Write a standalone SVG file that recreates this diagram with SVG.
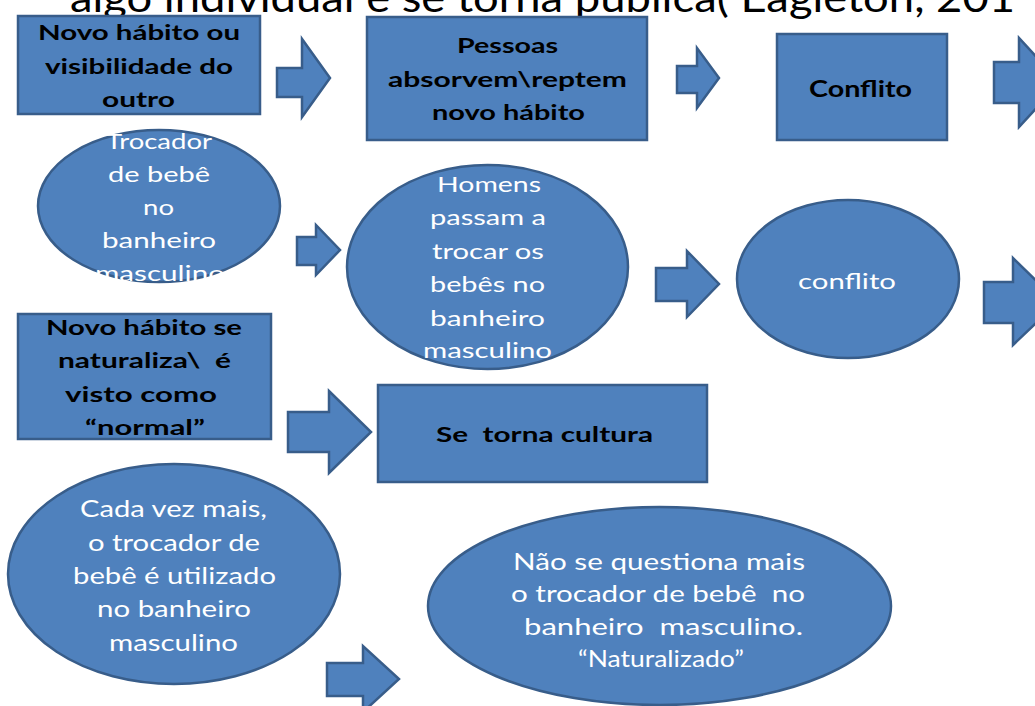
<svg xmlns="http://www.w3.org/2000/svg" width="1035" height="706" viewBox="0 0 1035 706">
<style>
.shape{fill:#4F81BD;stroke:#385D8A;stroke-width:2.5}
.arrow{fill:#4F81BD;stroke:#385D8A;stroke-width:2.5;stroke-linejoin:miter}
.bt{font-family:Lato,'Liberation Sans',sans-serif;font-weight:bold;font-size:21px;fill:#000}
.wt{font-family:Lato,'Liberation Sans',sans-serif;font-size:22px;fill:#fff}
.wt2{font-family:Lato,'Liberation Sans',sans-serif;font-size:24px;fill:#fff}
.title{font-family:Lato,'Liberation Sans',sans-serif;font-size:40px;fill:#000}
</style>
<rect width="1035" height="706" fill="#fff"/>
<text class="title" x="70" y="12" textLength="945" lengthAdjust="spacingAndGlyphs">algo individual e se torna pública( Eagleton, 201</text>

<g id="connectors">
<polygon class="arrow" points="277,68 302,68 302,39 330,78 302,117 302,97 277,97"/>
<polygon class="arrow" points="677,66 697,66 697,48 719,78 697,108 697,93 677,93"/>
<polygon class="arrow" points="994,62 1019,62 1019,38 1060,82.5 1019,127 1019,103 994,103"/>
<polygon class="arrow" points="297,237 316,237 316,225 340,250 316,275 316,265 297,265"/>
<polygon class="arrow" points="656,268 687,268 687,251 719,284 687,317 687,301 656,301"/>
<polygon class="arrow" points="984,282 1013,282 1013,258 1058,302 1013,345 1013,323 984,323"/>
<polygon class="arrow" points="288,412 329,412 329,391 371,432 329,473 329,452 288,452"/>
<polygon class="arrow" points="327,663 363,663 363,646 399,679 363,712 363,696 327,696"/>
</g>

<g id="box1">
<rect class="shape" x="18" y="16" width="242" height="98"/>
<text class="bt" x="38" y="40" textLength="202" lengthAdjust="spacingAndGlyphs">Novo hábito ou</text>
<text class="bt" x="45" y="74" textLength="188" lengthAdjust="spacingAndGlyphs">visibilidade do</text>
<text class="bt" x="102" y="107" textLength="73" lengthAdjust="spacingAndGlyphs">outro</text>
</g>

<g id="box2">
<rect class="shape" x="367" y="17" width="280" height="123"/>
<text class="bt" x="457" y="53" textLength="101" lengthAdjust="spacingAndGlyphs">Pessoas</text>
<text class="bt" x="388" y="87" textLength="239" lengthAdjust="spacingAndGlyphs">absorvem\reptem</text>
<text class="bt" x="432" y="120" textLength="153" lengthAdjust="spacingAndGlyphs">novo hábito</text>
</g>

<g id="box3">
<rect class="shape" x="777" y="34" width="170" height="106"/>
<text class="bt" x="809" y="97" textLength="103" lengthAdjust="spacingAndGlyphs" style="font-size:23px">Conflito</text>
</g>

<g id="ellipse1">
<ellipse class="shape" cx="159" cy="206" rx="121" ry="76"/>
<text class="wt" x="106" y="149" textLength="106" lengthAdjust="spacingAndGlyphs">Trocador</text>
<text class="wt" x="108" y="182" textLength="102" lengthAdjust="spacingAndGlyphs">de bebê</text>
<text class="wt" x="143" y="215" textLength="31" lengthAdjust="spacingAndGlyphs">no</text>
<text class="wt" x="102" y="248" textLength="114" lengthAdjust="spacingAndGlyphs">banheiro</text>
<text class="wt" x="95" y="281" textLength="130" lengthAdjust="spacingAndGlyphs">masculino</text>
</g>

<g id="ellipse2">
<ellipse class="shape" cx="487.5" cy="267" rx="140.5" ry="102"/>
<text class="wt" x="437" y="192" textLength="104" lengthAdjust="spacingAndGlyphs">Homens</text>
<text class="wt" x="430" y="225" textLength="116" lengthAdjust="spacingAndGlyphs">passam a</text>
<text class="wt" x="432" y="259" textLength="112" lengthAdjust="spacingAndGlyphs">trocar os</text>
<text class="wt" x="430" y="292" textLength="115" lengthAdjust="spacingAndGlyphs">bebês no</text>
<text class="wt" x="430" y="326" textLength="115" lengthAdjust="spacingAndGlyphs">banheiro</text>
<text class="wt" x="423" y="358" textLength="129" lengthAdjust="spacingAndGlyphs">masculino</text>
</g>

<g id="ellipse3">
<ellipse class="shape" cx="848" cy="279" rx="111" ry="79"/>
<text class="wt" x="798" y="289" textLength="98" lengthAdjust="spacingAndGlyphs">conflito</text>
</g>

<g id="box4">
<rect class="shape" x="18" y="314" width="253" height="125"/>
<text class="bt" x="46" y="335" textLength="196" lengthAdjust="spacingAndGlyphs">Novo hábito se</text>
<text class="bt" x="58" y="368" textLength="173" lengthAdjust="spacingAndGlyphs" xml:space="preserve">naturaliza\  é</text>
<text class="bt" x="65" y="402" textLength="152" lengthAdjust="spacingAndGlyphs">visto como</text>
<text class="bt" x="85" y="435" textLength="120" lengthAdjust="spacingAndGlyphs">“normal”</text>
</g>

<g id="box5">
<rect class="shape" x="378" y="385" width="329" height="97"/>
<text class="bt" x="436" y="442" textLength="217" lengthAdjust="spacingAndGlyphs" xml:space="preserve">Se  torna cultura</text>
</g>

<g id="ellipse4">
<ellipse class="shape" cx="174" cy="574" rx="166" ry="110"/>
<text class="wt2" x="80" y="517" textLength="187" lengthAdjust="spacingAndGlyphs">Cada vez mais,</text>
<text class="wt2" x="88" y="551" textLength="172" lengthAdjust="spacingAndGlyphs">o trocador de</text>
<text class="wt2" x="73" y="584" textLength="203" lengthAdjust="spacingAndGlyphs">bebê é utilizado</text>
<text class="wt2" x="97" y="617" textLength="154" lengthAdjust="spacingAndGlyphs">no banheiro</text>
<text class="wt2" x="109" y="651" textLength="129" lengthAdjust="spacingAndGlyphs">masculino</text>
</g>

<g id="ellipse5">
<ellipse class="shape" cx="659.5" cy="606" rx="231.5" ry="99"/>
<text class="wt2" x="513" y="570" textLength="292" lengthAdjust="spacingAndGlyphs">Não se questiona mais</text>
<text class="wt2" x="511" y="602" textLength="294" lengthAdjust="spacingAndGlyphs" xml:space="preserve">o trocador de bebê  no</text>
<text class="wt2" x="524" y="635" textLength="279" lengthAdjust="spacingAndGlyphs" xml:space="preserve">banheiro  masculino.</text>
<text class="wt2" x="578" y="667" textLength="166" lengthAdjust="spacingAndGlyphs">“Naturalizado”</text>
</g>
</svg>
